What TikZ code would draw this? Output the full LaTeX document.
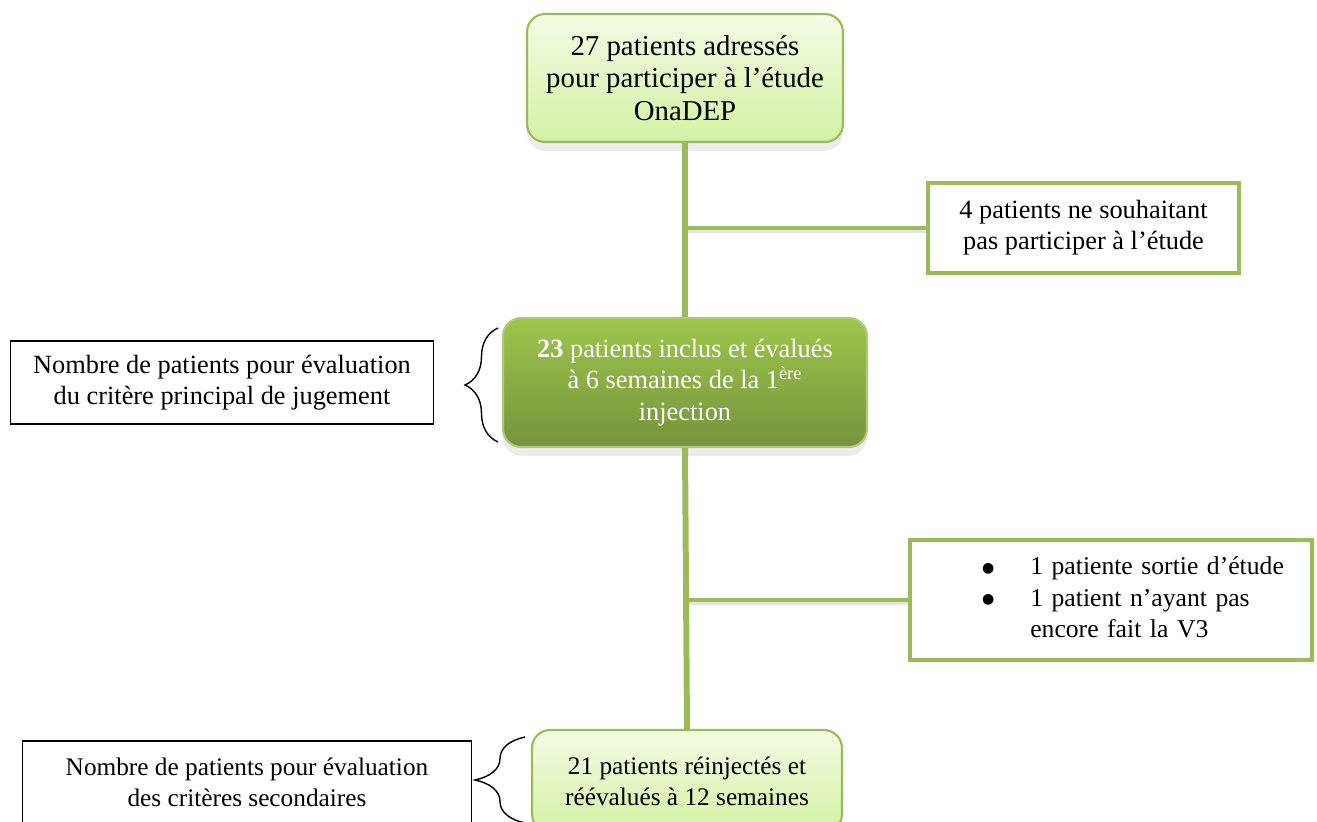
\documentclass[tikz,border=0pt]{standalone}
\usepackage{fontspec}
\setmainfont{Liberation Serif}
\newfontfamily\symfont{DejaVu Sans}
\usetikzlibrary{positioning,shadows,decorations.pathreplacing}

\definecolor{olivegreen}{HTML}{9BBB59}
\definecolor{palegreen}{HTML}{F3FCE4}
\definecolor{softgreen}{HTML}{D3F1A3}
\definecolor{midgreen}{HTML}{9DC64C}
\definecolor{darkgreen}{HTML}{76933C}

\newcommand{\bigbullet}{\raisebox{1.6pt}{\symfont\fontsize{8}{9}\selectfont ●}}

\begin{document}
\begin{tikzpicture}[
    x=0.02cm, y=-0.02cm,
    every node/.style={font=\fontsize{15}{17.8}\selectfont, align=center, inner sep=0pt},
    lightbox/.style={draw=olivegreen, line width=1.2pt, rounded corners=0.36cm,
        top color=palegreen, bottom color=softgreen,
        drop shadow={shadow xshift=0pt, shadow yshift=-5pt, opacity=0.15, fill=gray}},
    darkbox/.style={draw=olivegreen!80!white, line width=1.2pt, rounded corners=0.36cm,
        top color=midgreen, bottom color=darkgreen, text=white,
        drop shadow={shadow xshift=0pt, shadow yshift=-5pt, opacity=0.15, fill=gray}},
    exitbox/.style={draw=olivegreen, line width=1.8pt, fill=white},
    notebox/.style={draw=black, line width=0.6pt, fill=white},
    flow/.style={draw=olivegreen, line width=3.4pt},
    branch/.style={draw=olivegreen, line width=2.6pt},
    curly/.style={draw=black, line width=0.8pt, decorate, decoration={brace, amplitude=#1}}
]
    \useasboundingbox (0,0) rectangle (1317,821);

    % Main flow boxes
    \node[lightbox, minimum width=6.32cm, minimum height=2.56cm,
          font=\fontsize{16.4}{18.4}\selectfont] (adr) at (685,78)
        {27 patients adressés\\pour participer à l’étude\\OnaDEP};
    \node[darkbox, minimum width=7.28cm, minimum height=2.58cm] (incl) at (685,382.5)
        {\textbf{23} patients inclus et évalués\\à 6 semaines de la 1\textsuperscript{ère}\\injection};
    \node[lightbox, minimum width=6.2cm, minimum height=2.04cm,
          font=\fontsize{14.4}{17.8}\selectfont] (reinj) at (687,781)
        {21 patients réinjectés et\\réévalués à 12 semaines};

    % Exclusions
    \node[exitbox, minimum width=6.22cm, minimum height=1.8cm] (refus) at (1083.5,228)
        {4 patients ne souhaitant\\pas participer à l’étude};
    \node[exitbox, minimum height=2.4cm, text width=8.04cm, align=left,
          font=\fontsize{14.6}{17.8}\selectfont] (sortie) at (1111,600)
        {\hspace*{1.44cm}\begin{tabular}{@{}l@{\hspace{0.72cm}}l@{}}
            \bigbullet & 1 patiente sortie d’étude\\
            \bigbullet & 1 patient n’ayant pas\\
                       & encore fait la V3
        \end{tabular}};

    % Side notes
    \node[notebox, minimum width=8.48cm, minimum height=1.66cm] (crit1) at (222,382.5)
        {Nombre de patients pour évaluation\\du critère principal de jugement};
    \node[notebox, minimum width=9cm, minimum height=1.64cm,
          font=\fontsize{14.4}{17.8}\selectfont] (crit2) at (247,782)
        {Nombre de patients pour évaluation\\des critères secondaires};

    % Connectors
    \coordinate (j1) at (adr.south |- refus.west);
    \coordinate (j2) at (incl.south |- sortie.west);
    \draw[branch, draw=gray!20, line width=3pt] ([yshift=-1.5pt]j1) -- ([yshift=-1.5pt]refus.west);
    \draw[branch, draw=gray!20, line width=3pt] ([yshift=-1.5pt]j2) -- ([yshift=-1.5pt]sortie.west);
    \draw[branch] (j1) -- (refus.west);
    \draw[branch] (j2) -- (sortie.west);
    \draw[flow] (adr.south) -- (incl.north);
    \draw[flow] (incl.south) -- (reinj.north);

    % Braces
    \draw[curly=0.66cm] (498,442) -- (498,328);
    \draw[curly=1.0cm] (525,823) -- (525,737);
\end{tikzpicture}
\end{document}
